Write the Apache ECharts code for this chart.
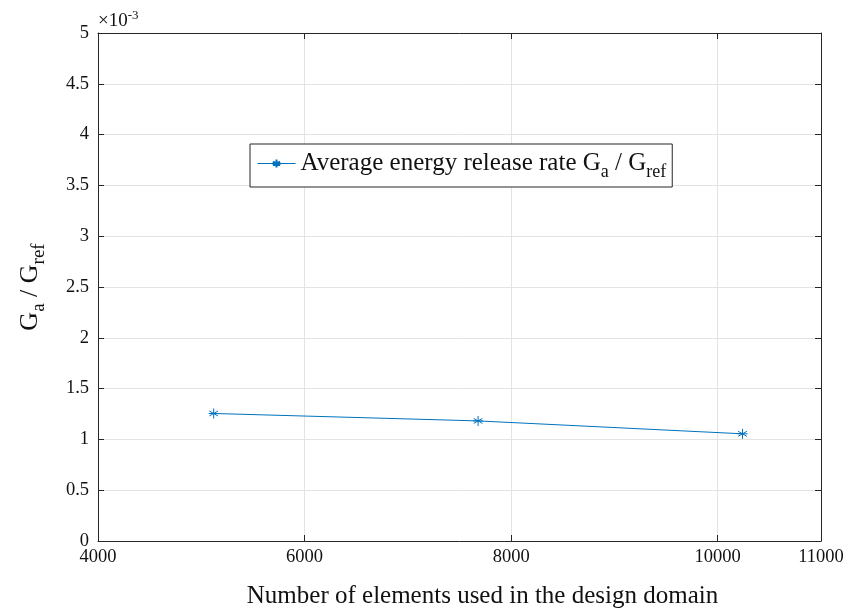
<!DOCTYPE html>
<html><head><meta charset="utf-8">
<script src="https://cdn.jsdelivr.net/npm/echarts@6/dist/echarts.min.js"></script>
<style>html,body{margin:0;padding:0;background:#fff}#c{width:856px;height:611px}</style>
</head><body><div id="c"></div>
<script>
var elements = [5120, 7680, 10240];
var energyRate = [1.255e-3, 1.182e-3, 1.055e-3];
var seriesName = 'Average energy release rate';
var xTicks = [4000, 6000, 8000, 10000, 11000];

var FONT = '"Liberation Serif", "Times New Roman", serif';
var asterisk = 'path://M0,-1L0,1M-0.87,-0.5L0.87,0.5M-0.87,0.5L0.87,-0.5M-1,0L1,0';
var chart = echarts.init(document.getElementById('c'), null, {renderer: 'canvas'});
var axisColor = '#262626';
var common = {
  axisLine: {show: true, onZero: false, lineStyle: {color: axisColor, width: 1}},
  axisTick: {show: true, inside: true, length: 6, lineStyle: {color: axisColor}}
};
var richSub = function (main, sub, off) {
  return {
    m: {fontFamily: FONT, fontSize: main, color: '#111', verticalAlign: 'top', lineHeight: main},
    s: {fontFamily: FONT, fontSize: sub, color: '#111', verticalAlign: 'top', padding: [off, 0, 0, 0], lineHeight: sub}
  };
};
chart.setOption({
  animation: false,
  textStyle: {fontFamily: FONT},
  grid: {left: 98, right: 35, top: 33, bottom: 70, containLabel: false, outerBoundsMode: 'none'},
  xAxis: [{
    type: 'value', min: 4000, max: 11000, interval: 2000, position: 'bottom',
    axisLine: common.axisLine, axisTick: common.axisTick,
    axisLabel: {color: '#111', fontFamily: FONT, fontSize: 18.5, margin: 7, showMaxLabel: true, showMinLabel: true,
      formatter: function (v) { return String(v); }},
    splitLine: {show: true, lineStyle: {color: '#e3e3e3', width: 1}},
    name: 'Number of elements used in the design domain', nameLocation: 'middle', nameGap: 43,
    nameTextStyle: {color: '#111', fontFamily: FONT, fontSize: 25, padding: [0, 0, 0, 46]}
  }, {
    type: 'value', min: 4000, max: 11000, interval: 2000, position: 'top',
    axisLine: common.axisLine, axisTick: common.axisTick, axisLabel: {show: false}, splitLine: {show: false}
  }],
  yAxis: [{
    type: 'value', min: 0, max: 0.005, interval: 0.0005, position: 'left',
    axisLine: common.axisLine, axisTick: common.axisTick,
    axisLabel: {color: '#111', fontFamily: FONT, fontSize: 18.5, margin: 9,
      formatter: function (v) { return String(+(v * 1000).toFixed(1)); }},
    splitLine: {show: true, lineStyle: {color: '#e3e3e3', width: 1}},
    name: '{m|G}{s|a}{m| / G}{s|ref}', nameLocation: 'middle', nameGap: 55, nameRotate: 90,
    nameTextStyle: {color: '#111', fontFamily: FONT, fontSize: 26, rich: richSub(26, 19, 13)}
  }, {
    type: 'value', min: 0, max: 0.005, interval: 0.0005, position: 'right',
    axisLine: common.axisLine, axisTick: common.axisTick, axisLabel: {show: false}, splitLine: {show: false}
  }],
  legend: {
    show: true, left: 250, top: 144, orient: 'horizontal',
    padding: [7, 6, 6, 7], itemWidth: 38, itemHeight: 10, itemGap: 4,
    backgroundColor: '#fff', borderColor: axisColor, borderWidth: 1, borderRadius: 0,
    selectedMode: false,
    lineStyle: {width: 1},
    formatter: function (n) { return '{m|' + n + ' G}{s|a}{m| / G}{s|ref}'; },
    textStyle: {fontFamily: FONT, fontSize: 25, color: '#111', rich: richSub(25, 18, 12)},
    data: [seriesName]
  },
  graphic: [{
    type: 'text', left: 98, top: 9,
    style: {text: '{m|\u00d710}{p|-3}', fill: '#111',
      rich: {
        m: {fontFamily: FONT, fontSize: 19, fill: '#111', verticalAlign: 'bottom', lineHeight: 19},
        p: {fontFamily: FONT, fontSize: 13, fill: '#111', verticalAlign: 'bottom', padding: [0, 0, 9, 0], lineHeight: 13}
      }}
  }],
  series: [{
    name: seriesName, type: 'line',
    data: elements.map(function (x, i) { return [x, energyRate[i]]; }),
    symbol: asterisk, symbolSize: 10, showSymbol: true,
    lineStyle: {color: '#0072BD', width: 1},
    itemStyle: {color: '#0072BD', borderColor: '#0072BD', borderWidth: 1}
  }]
});
</script></body></html>
